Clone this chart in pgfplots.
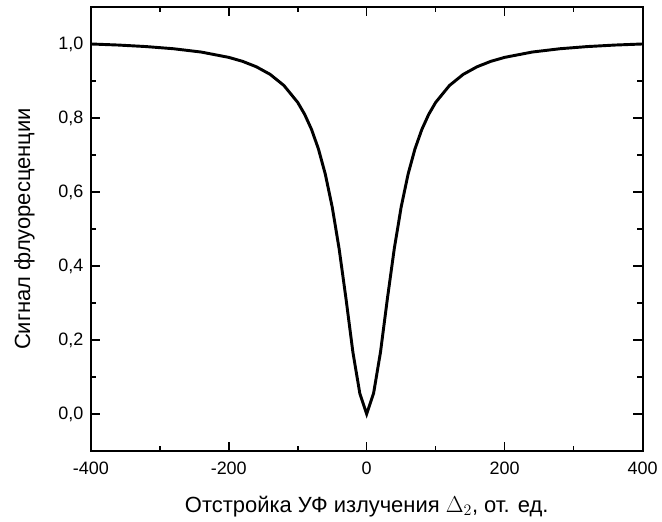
\documentclass[border=0pt]{standalone}
\usepackage{fontspec}
\setmainfont{Liberation Sans}
\usepackage{pgfplots}
\pgfplotsset{compat=1.18}
\begin{document}
\begin{tikzpicture}
\begin{axis}[
  scale only axis,
  width=414.75pt, height=333.75pt,
  xmin=-400, xmax=400, ymin=-0.1, ymax=1.1,
  xtick={-400,-200,0,200,400},
  ytick={0,0.2,0.4,0.6,0.8,1.0},
  minor x tick num=1, minor y tick num=1,
  tick align=inside,
  major tick length=7pt, minor tick length=4pt,
  axis line style={line width=1.4pt},
  every tick/.style={line width=1.2pt, black},
  /pgf/number format/assume math mode=true,
  tick label style={font=\fontsize{13.5}{16}\selectfont},
  yticklabel style={xshift=-2pt, /pgf/number format/.cd, use comma, fixed, fixed zerofill, precision=1},
  xticklabel style={yshift=-5pt, /pgf/number format/.cd, fixed, precision=0},
  xlabel={Отстройка УФ излучения $\Delta_2$, от. ед.},
  ylabel={Сигнал флуоресценции},
  label style={font=\fontsize{16.5}{19}\selectfont},
  xlabel style={yshift=-9pt},
  ylabel style={yshift=11pt},
]
\addplot[black, line width=2.2pt, line join=miter] coordinates {
(-400,1.0000) (-360,0.9971) (-320,0.9930) (-280,0.9871) (-240,0.9782)
(-200,0.9638) (-180,0.9531) (-160,0.9384) (-140,0.9179) (-120,0.8878)
(-100,0.8421) (-90,0.8101) (-80,0.7692) (-70,0.7165) (-60,0.6481)
(-50,0.5595) (-40,0.4470) (-30,0.3116) (-20,0.1670) (-10,0.0560)
(0,0.0000)
(10,0.0560) (20,0.1670) (30,0.3116) (40,0.4470) (50,0.5595)
(60,0.6481) (70,0.7165) (80,0.7692) (90,0.8101) (100,0.8421)
(120,0.8878) (140,0.9179) (160,0.9384) (180,0.9531) (200,0.9638)
(240,0.9782) (280,0.9871) (320,0.9930) (360,0.9971) (400,1.0000)
};
\end{axis}
\path (current axis.south west) ++(-68.25pt,-53.25pt) coordinate (bbA);
\path (current axis.north east) ++(13.5pt,5.25pt) coordinate (bbB);
\path (bbA) rectangle (bbB);
\end{tikzpicture}
\end{document}
